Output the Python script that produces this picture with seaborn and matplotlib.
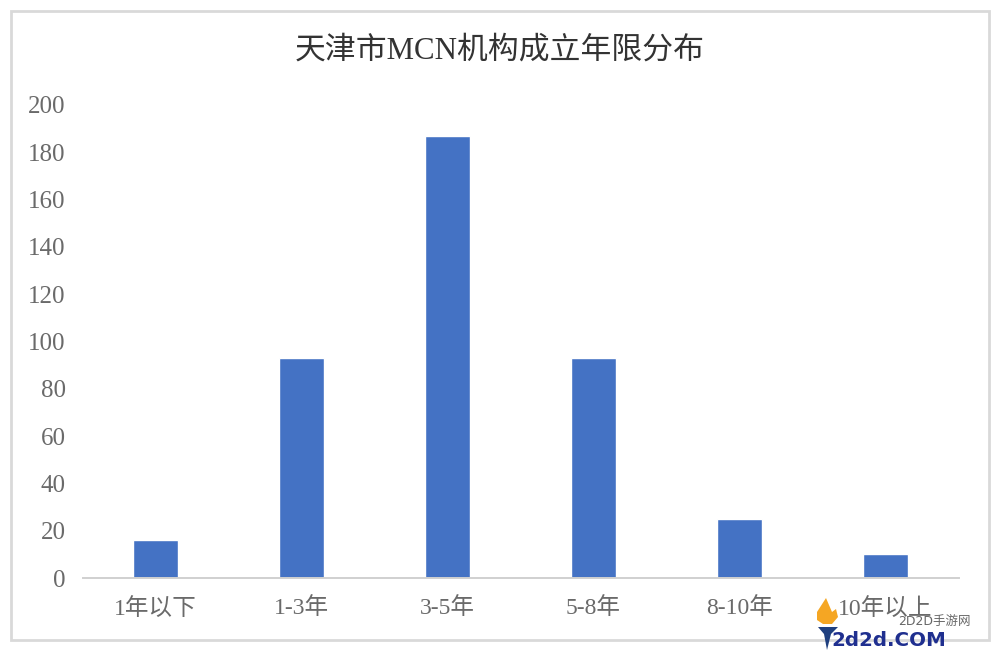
#!/usr/bin/env python3
# -*- coding: utf-8 -*-
import pandas as pd
import matplotlib
matplotlib.use('Agg')
import matplotlib.pyplot as plt
from matplotlib.patches import Rectangle, Polygon
import seaborn as sns

categories = ["1年以下", "1-3年", "3-5年", "5-8年", "8-10年", "10年以上"]
counts = [16, 93, 187, 93, 25, 10]
y_ticks = [0, 20, 40, 60, 80, 100, 120, 140, 160, 180, 200]

sns.set_theme(style="white")
# 没有中文衬线字体，数字和拉丁字母用 Liberation Serif
plt.rcParams['font.family'] = ['Liberation Serif', 'Noto Sans CJK SC', 'DejaVu Sans']

df = pd.DataFrame({'年限': categories, '数量': counts})

fig = plt.figure(figsize=(10, 6.51), dpi=100)
ax = fig.add_axes([0.0825, 0.112, 0.876, 0.727])
sns.barplot(x='年限', y='数量', data=df, color='#4472C4', saturation=1, width=0.315, ax=ax)

ax.set_ylim(0, 200)
ax.set_yticks(y_ticks)
ax.set_xlabel('')
ax.set_ylabel('')
ax.tick_params(axis='x', length=0, labelsize=17, labelcolor='#6a6a6a', pad=14)
ax.tick_params(axis='y', length=0, labelsize=18, labelcolor='#6a6a6a', pad=12)
for s in ['top', 'right', 'left']:
    ax.spines[s].set_visible(False)
ax.spines['bottom'].set_color('#D0D0D0')
ax.spines['bottom'].set_linewidth(1.4)

# 外框
fig.add_artist(Rectangle((0.0105, 0.0175), 0.978, 0.966, transform=fig.transFigure,
                         fill=False, edgecolor='#D9D9D9', linewidth=2))

fig.text(0.5, 0.922, "天津市MCN机构成立年限分布", ha='center', va='center',
         fontsize=22.2, color='#333333')

# 水印
fig.text(0.934, 0.045, "2D2D手游网", ha='center', va='center', fontsize=9,
         color='#666666', family=['DejaVu Sans', 'Noto Sans CJK SC'])
fig.text(0.889, 0.0165, "2d2d.COM", ha='center', va='center', fontsize=14.3,
         fontweight='bold', color='#1f2f8f', family=['DejaVu Sans'])

def px(points):
    return [(x / 1000, 1 - y / 651) for x, y in points]

# 火炬图标
fig.add_artist(Polygon(px([(826, 598), (817, 612), (817, 620), (823, 624), (832, 624),
                           (838, 617), (836, 609), (832, 612)]),
                       transform=fig.transFigure, facecolor='#F5A623', edgecolor='none'))
fig.add_artist(Polygon(px([(818, 627), (838, 627), (831, 634), (827, 650), (824, 634)]),
                       transform=fig.transFigure, facecolor='#1f3f7f', edgecolor='none'))

fig.savefig('out.png', dpi=100)
